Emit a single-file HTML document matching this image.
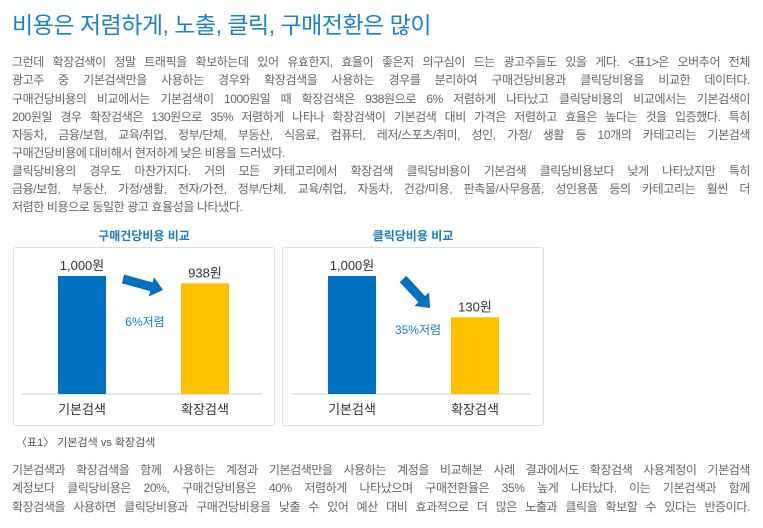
<!DOCTYPE html>
<html><head><meta charset="utf-8">
<style>
body{margin:0;background:#fff;width:763px;height:528px;overflow:hidden;position:relative;font-family:"Liberation Sans","Noto Sans CJK KR","NanumGothic",sans-serif}
.t{position:absolute;left:12px;top:6px;font-size:23px;color:#1a84c6;letter-spacing:-0.5px;white-space:nowrap}
.l{position:absolute;left:12px;width:738px;font-size:12px;line-height:16px;color:#666;text-align:justify;text-align-last:justify;white-space:nowrap;letter-spacing:-0.4px}
.l.e{text-align-last:left}
.box{position:absolute;border:1px solid #ddd;border-radius:3px;top:247px;height:177px}
svg{position:absolute;left:0;top:0}
.cap{position:absolute;left:16px;top:434px;font-size:11px;color:#555;white-space:nowrap}
</style></head><body>
<div class="t">비용은 저렴하게, 노출, 클릭, 구매전환은 많이</div>
<div>
<div class="l" style="top:54px">그런데 확장검색이 정말 트래픽을 확보하는데 있어 유효한지, 효율이 좋은지 의구심이 드는 광고주들도 있을 게다. &lt;표1&gt;은 오버추어 전체</div>
<div class="l" style="top:72px">광고주 중 기본검색만을 사용하는 경우와 확장검색을 사용하는 경우를 분리하여 구매건당비용과 클릭당비용을 비교한 데이터다.</div>
<div class="l" style="top:91px">구매건당비용의 비교에서는 기본검색이 1000원일 때 확장검색은 938원으로 6% 저렴하게 나타났고 클릭당비용의 비교에서는 기본검색이</div>
<div class="l" style="top:109px">200원일 경우 확장검색은 130원으로 35% 저렴하게 나타나 확장검색이 기본검색 대비 가격은 저렴하고 효율은 높다는 것을 입증했다. 특히</div>
<div class="l" style="top:127px">자동차, 금융/보험, 교육/취업, 정부/단체, 부동산, 식음료, 컴퓨터, 레저/스포츠/취미, 성인, 가정/ 생활 등 10개의 카테고리는 기본검색</div>
<div class="l e" style="top:145px">구매건당비용에 대비해서 현저하게 낮은 비용을 드러냈다.</div>
<div class="l" style="top:163px">클릭당비용의 경우도 마찬가지다. 거의 모든 카테고리에서 확장검색 클릭당비용이 기본검색 클릭당비용보다 낮게 나타났지만 특히</div>
<div class="l" style="top:181px">금융/보험, 부동산, 가정/생활, 전자/가전, 정부/단체, 교육/취업, 자동차, 건강/미용, 판촉물/사무용품, 성인용품 등의 카테고리는 훨씬 더</div>
<div class="l e" style="top:199px">저렴한 비용으로 동일한 광고 효율성을 나타냈다.</div>
</div>
<div class="box" style="left:13px;width:260px"></div>
<div class="box" style="left:282px;width:260px"></div>
<svg id="chart" width="763" height="528"></svg>
<div class="cap">〈표1〉 기본검색 vs 확장검색</div>
<div>
<div class="l" style="top:462px">기본검색과 확장검색을 함께 사용하는 계정과 기본검색만을 사용하는 계정을 비교해본 사례 결과에서도 확장검색 사용계정이 기본검색</div>
<div class="l" style="top:480px">계정보다 클릭당비용은 20%, 구매건당비용은 40% 저렴하게 나타났으며 구매전환율은 35% 높게 나타났다. 이는 기본검색과 함께</div>
<div class="l" style="top:499px">확장검색을 사용하면 클릭당비용과 구매건당비용을 낮출 수 있어 예산 대비 효과적으로 더 많은 노출과 클릭을 확보할 수 있다는 반증이다.</div>
</div>
<script>
const categories = ["기본검색","확장검색"];
const cpaValues = [1000, 938];
const cpaLabels = ["1,000원","938원"];
const cpcValues = [200, 130];
const cpcLabels = ["1,000원","130원"];
const chartTitles = ["구매건당비용 비교","클릭당비용 비교"];
const savingLabels = ["6%저렴","35%저렴"];

const NS="http://www.w3.org/2000/svg";
const svg=document.getElementById('chart');
const baseY=394, plotH=118, colors=["#0070c0","#ffc000"];
function mk(tag,attrs){const e=document.createElementNS(NS,tag);for(const k in attrs)e.setAttribute(k,attrs[k]);svg.appendChild(e);return e;}
function txt(x,y,s,size,fill,weight){const e=mk('text',{x:x,y:y,'text-anchor':'middle','font-size':size,fill:fill,'font-weight':weight||'normal','font-family':'"Liberation Sans","Noto Sans CJK KR",sans-serif'});e.textContent=s;return e;}
const panels=[
 {x0:13,values:cpaValues,labels:cpaLabels,barX:[58,181],max:1000,arrow:[123,279,163,290],save:[145,326]},
 {x0:282,values:cpcValues,labels:cpcLabels,barX:[328,451],max:200,arrow:[403,279,430,308],save:[418,334]}
];
panels.forEach((p,pi)=>{
  const yScale=v=>baseY-v/p.max*plotH;
  const t=txt(p.x0+131,240,chartTitles[pi],12,"#1a7cc0","bold");
  
  
  const ax=mk('line',{x1:p.x0+9,x2:p.x0+249,y1:baseY,y2:baseY,stroke:'#ccc','stroke-width':1});
  
  
  p.values.forEach((v,i)=>{
    const y=yScale(v);
    const r=mk('rect',{x:p.barX[i],y:y,width:48,height:baseY-y,fill:colors[i]});
    
    
    const l=txt(p.barX[i]+24,y-6,p.labels[i],13,"#333");
    
    
    const c=txt(p.barX[i]+24,414,categories[i],13,"#333");
    
    
  });
  const [x1,y1,x2,y2]=p.arrow;
  const dx=x2-x1,dy=y2-y1,len=Math.hypot(dx,dy),ux=dx/len,uy=dy/len,nx=-uy,ny=ux;
  const hx=x2-ux*12,hy=y2-uy*12;
  const g=mk('g',{fill:'#0070c0'});
  
  
  const sh=document.createElementNS(NS,'polygon');
  sh.setAttribute('points',[[x1+nx*4.5,y1+ny*4.5],[hx+nx*4.5,hy+ny*4.5],[hx+nx*10,hy+ny*10],[x2,y2],[hx-nx*10,hy-ny*10],[hx-nx*4.5,hy-ny*4.5],[x1-nx*4.5,y1-ny*4.5]].map(a=>a.join(',')).join(' '));
  g.appendChild(sh);
  const s=txt(p.save[0],p.save[1],savingLabels[pi],12,"#1a7cc0");
  
  
});
</script>
</body></html>
